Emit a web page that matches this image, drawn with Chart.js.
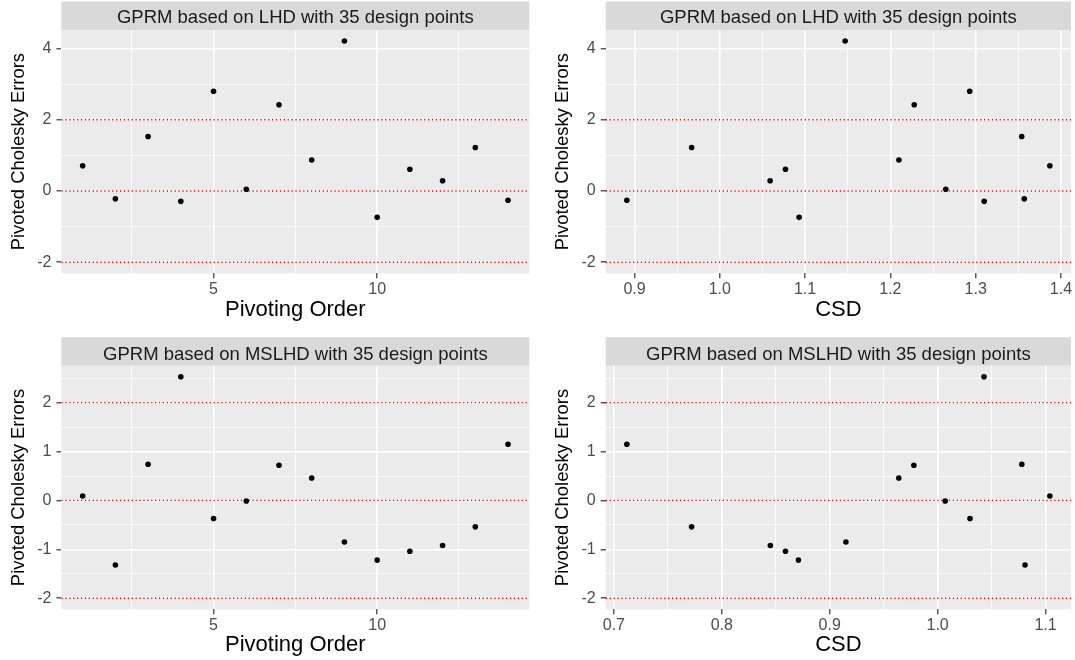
<!DOCTYPE html>
<html>
<head>
<meta charset="utf-8">
<script src="https://cdn.jsdelivr.net/npm/chart.js@4.4.1/dist/chart.umd.min.js"></script>
<style>
  html, body { margin: 0; padding: 0; background: #ffffff; }
  #wrap { position: relative; width: 1075px; height: 660px; overflow: hidden; }
  canvas { position: absolute; }
</style>
</head>
<body>
<div id="wrap">
  <canvas id="c1" width="544" height="330" style="left:0px;top:0px"></canvas>
  <canvas id="c2" width="531" height="330" style="left:544px;top:0px"></canvas>
  <canvas id="c3" width="544" height="330" style="left:0px;top:330px"></canvas>
  <canvas id="c4" width="531" height="330" style="left:544px;top:330px"></canvas>
</div>
<script>
// ---------------- DATA ----------------
const pivotOrder = [1, 2, 3, 4, 5, 6, 7, 8, 9, 10, 11, 12, 13, 14];

const errorsLHD = [0.71, -0.22, 1.53, -0.29, 2.80, 0.05, 2.42, 0.87, 4.21, -0.74, 0.61, 0.29, 1.22, -0.26];
const csdLHD    = [1.387, 1.357, 1.354, 1.310, 1.293, 1.265, 1.228, 1.210, 1.147, 1.093, 1.077, 1.059, 0.967, 0.891];

const errorsMSLHD = [0.09, -1.32, 0.74, 2.53, -0.37, -0.01, 0.72, 0.46, -0.85, -1.22, -1.04, -0.92, -0.54, 1.15];
const csdMSLHD    = [1.104, 1.081, 1.078, 1.043, 1.030, 1.007, 0.978, 0.964, 0.915, 0.871, 0.859, 0.845, 0.772, 0.712];

const refLines = [-2, 0, 2];

const titleLHD   = "GPRM based on LHD with 35 design points";
const titleMSLHD = "GPRM based on MSLHD with 35 design points";
const xTitleOrder = "Pivoting Order";
const xTitleCSD = "CSD";
const yTitle = "Pivoted Cholesky Errors";

const orderTicks = [5, 10];
const orderMinor = [2.5, 7.5, 12.5];
const csdTicksLHD = [0.9, 1.0, 1.1, 1.2, 1.3, 1.4];
const csdMinorLHD = [0.95, 1.05, 1.15, 1.25, 1.35];
const csdTicksMSLHD = [0.7, 0.8, 0.9, 1.0, 1.1];
const csdMinorMSLHD = [0.75, 0.85, 0.95, 1.05];
const yTicksLHD = [-2, 0, 2, 4];
const yMinorLHD = [-1, 1, 3];
const yTicksMSLHD = [-2, -1, 0, 1, 2];
const yMinorMSLHD = [-1.5, -0.5, 0.5, 1.5, 2.5];

// ---------------- STYLE / LAYOUT ----------------
const FONT = "'Liberation Sans', Arial, Helvetica, sans-serif";

function expand(vals) {
  const lo = Math.min(...vals), hi = Math.max(...vals);
  const d = (hi - lo) * 0.05;
  return [lo - d, hi + d];
}

const panelPlugin = {
  id: 'panel',
  beforeDraw(chart, args, opts) {
    const { ctx, chartArea: a } = chart;
    ctx.save();
    ctx.fillStyle = '#EBEBEB';
    ctx.fillRect(a.left, a.top, a.right - a.left, a.bottom - a.top);
    ctx.fillStyle = '#D9D9D9';
    ctx.fillRect(a.left, a.top - opts.stripH, a.right - a.left, opts.stripH);
    ctx.fillStyle = '#1A1A1A';
    ctx.font = '18.5px ' + FONT;
    ctx.textAlign = 'center';
    ctx.textBaseline = 'middle';
    ctx.fillText(opts.title, (a.left + a.right) / 2, a.top - opts.textOff);
    ctx.restore();
  },
  beforeDatasetsDraw(chart, args, opts) {
    const { ctx, chartArea: a } = chart;
    const ys = chart.scales.y;
    ctx.save();
    ctx.strokeStyle = '#FF0000';
    ctx.lineWidth = 1.3;
    ctx.setLineDash([1.3, 2.6]);
    for (const v of opts.lines) {
      const py = ys.getPixelForValue(v);
      ctx.beginPath();
      ctx.moveTo(a.left, py);
      ctx.lineTo(a.right, py);
      ctx.stroke();
    }
    ctx.restore();
  }
};

function axisCommon(major, minor, fmt) {
  const minorSet = new Set(minor);
  return {
    type: 'linear',
    afterBuildTicks: ax => {
      ax.ticks = major.concat(minor).sort((p, q) => p - q).map(v => ({ value: v }));
    },
    grid: {
      color: '#FFFFFF',
      lineWidth: c => (c.tick && minorSet.has(c.tick.value)) ? 0.8 : 1.6,
      drawTicks: true,
      tickLength: 5,
      tickColor: c => (c.tick && minorSet.has(c.tick.value)) ? 'rgba(0,0,0,0)' : '#333333',
      tickWidth: 1.2
    },
    border: { display: false },
    ticks: {
      autoSkip: false,
      maxRotation: 0,
      color: '#4D4D4D',
      font: { family: FONT, size: 16 },
      callback: v => minorSet.has(v) ? '' : fmt(v)
    }
  };
}

function makeChart(id, cfg) {
  const xr = expand(cfg.x);
  const yr = expand(cfg.y.concat(refLines));
  const xs = axisCommon(cfg.xMajor, cfg.xMinor, cfg.xFmt);
  Object.assign(xs, {
    position: 'bottom', min: xr[0], max: xr[1],
    afterFit: ax => { ax.height = cfg.xAxisH; },
    title: { display: true, text: cfg.xTitle, color: '#000000',
             font: { family: FONT, size: 22 }, padding: { top: 0, bottom: cfg.xTitlePad } }
  });
  xs.ticks.padding = 2;
  const ys = axisCommon(cfg.yMajor, cfg.yMinor, v => String(v));
  Object.assign(ys, {
    position: 'left', min: yr[0], max: yr[1],
    afterFit: ax => { ax.width = cfg.yAxisW; },
    title: { display: true, text: yTitle, color: '#000000',
             font: { family: FONT, size: 18.4 }, padding: { top: 8, bottom: 0 } }
  });
  ys.ticks.padding = 5;

  return new Chart(document.getElementById(id), {
    type: 'scatter',
    data: {
      datasets: [{
        data: cfg.x.map((xv, i) => ({ x: xv, y: cfg.y[i] })),
        pointRadius: 2.8,
        pointBackgroundColor: '#000000',
        pointBorderWidth: 0,
        showLine: false
      }]
    },
    options: {
      responsive: false,
      animation: false,
      layout: { padding: { left: 0, top: cfg.padTop, right: cfg.padRight, bottom: 0 } },
      plugins: {
        legend: { display: false },
        tooltip: { enabled: false },
        panel: { title: cfg.title, stripH: 28.5, textOff: cfg.textOff, lines: refLines }
      },
      scales: { x: xs, y: ys }
    },
    plugins: [panelPlugin]
  });
}

const fmt1 = v => v.toFixed(1);
const fmt0 = v => String(v);

makeChart('c1', { x: pivotOrder, y: errorsLHD, xMajor: orderTicks, xMinor: orderMinor, xFmt: fmt0,
  yMajor: yTicksLHD, yMinor: yMinorLHD, xTitle: xTitleOrder, title: titleLHD,
  padTop: 30, padRight: 14.7, yAxisW: 61.4, xAxisH: 56.7, xTitlePad: 7.2, textOff: 12 });
makeChart('c2', { x: csdLHD, y: errorsLHD, xMajor: csdTicksLHD, xMinor: csdMinorLHD, xFmt: fmt1,
  yMajor: yTicksLHD, yMinor: yMinorLHD, xTitle: xTitleCSD, title: titleLHD,
  padTop: 30, padRight: 2, yAxisW: 61.7, xAxisH: 56.7, xTitlePad: 7.2, textOff: 12 });
makeChart('c3', { x: pivotOrder, y: errorsMSLHD, xMajor: orderTicks, xMinor: orderMinor, xFmt: fmt0,
  yMajor: yTicksMSLHD, yMinor: yMinorMSLHD, xTitle: xTitleOrder, title: titleMSLHD,
  padTop: 35.7, padRight: 14.7, yAxisW: 61.4, xAxisH: 50.7, xTitlePad: 1.5, textOff: 11 });
makeChart('c4', { x: csdMSLHD, y: errorsMSLHD, xMajor: csdTicksMSLHD, xMinor: csdMinorMSLHD, xFmt: fmt1,
  yMajor: yTicksMSLHD, yMinor: yMinorMSLHD, xTitle: xTitleCSD, title: titleMSLHD,
  padTop: 35.7, padRight: 2, yAxisW: 61.7, xAxisH: 50.7, xTitlePad: 1.5, textOff: 11 });
</script>
</body>
</html>
